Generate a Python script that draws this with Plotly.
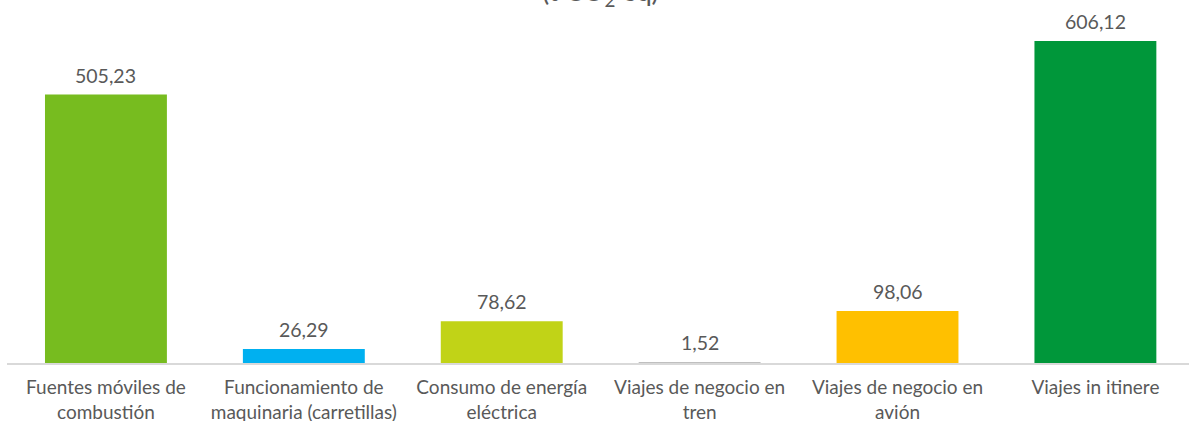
import plotly.graph_objects as go

categories = [
    "Fuentes móviles de<br>combustión",
    "Funcionamiento de<br>maquinaria (carretillas)",
    "Consumo de energía<br>eléctrica",
    "Viajes de negocio en<br>tren",
    "Viajes de negocio en<br>avión",
    "Viajes in itinere",
]
values = [505.23, 26.29, 78.62, 1.52, 98.06, 606.12]
value_labels = ["505,23", "26,29", "78,62", "1,52", "98,06", "606,12"]
colors = ["#77BC1F", "#00B0F0", "#C1D317", "#BFBFBF", "#FFC000", "#00973A"]
title_text = "(t CO<sub>2</sub> eq)"

FONT = "Lato"
GRAY = "#595959"

fig = go.Figure()
fig.add_trace(go.Bar(
    x=list(range(len(categories))),
    y=values,
    marker=dict(color=colors, line=dict(width=0)),
    hoverinfo="skip",
))

annotations = []
for i, (v, lab) in enumerate(zip(values, value_labels)):
    annotations.append(dict(
        x=i, y=v, xref="x", yref="y", text=lab, showarrow=False,
        yanchor="bottom", yshift=6,
        font=dict(family=FONT, size=19.5, color=GRAY),
    ))
annotations.append(dict(
    x=0.5025, y=1.0, xref="paper", yref="paper", text=title_text,
    showarrow=False, yanchor="bottom", yshift=7,
    font=dict(family=FONT, size=27, color=GRAY),
))

fig.update_layout(
    width=1189, height=421,
    margin=dict(l=7, r=0, t=20, b=58),
    paper_bgcolor="white", plot_bgcolor="white",
    bargap=0.384,
    showlegend=False,
    separators=",.",
    annotations=annotations,
    xaxis=dict(
        range=[-0.5, 5.473],
        tickmode="array",
        tickvals=list(range(len(categories))),
        ticktext=categories,
        showline=True, linecolor="#D9D9D9", linewidth=2,
        ticks="", showgrid=False, zeroline=False,
        ticklabelstandoff=6,
        automargin=False,
        tickfont=dict(family=FONT, size=19, color=GRAY),
    ),
    yaxis=dict(
        range=[0, 645.7],
        visible=False,
        showgrid=False, zeroline=False,
        automargin=False,
    ),
)

fig.write_html(
    "out.html",
    config={"displayModeBar": False},
    post_script="document.body.style.margin='0';document.body.style.overflow='hidden';",
)
